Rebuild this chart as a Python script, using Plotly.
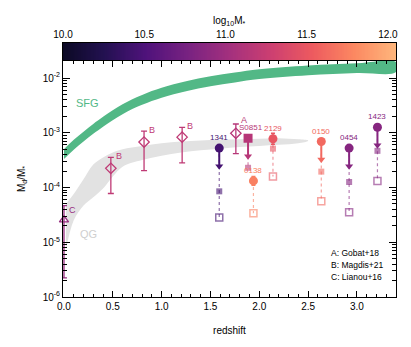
import numpy as np
import plotly.graph_objects as go
from plotly.colors import sample_colorscale

# ---------------- data (log10 of Md/M*) ----------------
sfg_z = [0.0, 0.1, 0.2, 0.3, 0.4, 0.6, 0.8, 1.0, 1.25, 1.5, 1.75, 2.0, 2.5, 3.0, 3.4]
sfg_hi = [-3.30, -3.13, -2.98, -2.84, -2.71, -2.48, -2.31, -2.18, -2.06, -1.97, -1.90, -1.84, -1.77, -1.73, -1.71]
sfg_lo = [-3.48, -3.31, -3.16, -3.02, -2.89, -2.66, -2.49, -2.36, -2.24, -2.15, -2.08, -2.02, -1.95, -1.91, -1.89]

qg_z = [0.02, 0.1, 0.2, 0.3, 0.4, 0.5, 0.6, 0.8, 1.0, 1.2, 1.4, 1.6, 1.8, 2.0, 2.2, 2.4, 2.5]
qg_hi = [-4.30, -4.12, -3.85, -3.58, -3.45, -3.36, -3.30, -3.24, -3.19, -3.16, -3.14, -3.13, -3.12, -3.11, -3.10, -3.12, -3.14]
qg_lo = [-5.14, -4.60, -4.33, -4.18, -4.02, -3.80, -3.62, -3.50, -3.42, -3.36, -3.32, -3.29, -3.26, -3.24, -3.22, -3.19, -3.15]

# our sample
gal_id = ["1341", "S0851", "0138", "2129", "0150", "0454", "1423"]
gal_z = [1.59, 1.885, 1.94, 2.14, 2.635, 2.92, 3.21]
gal_logm = [10.45, 11.15, 11.75, 11.5, 11.62, 10.85, 10.85]
gal_md = [-3.28, -3.10, -3.88, -3.11, -3.16, -3.28, -2.90]
gal_limit = [True, True, False, False, True, True, True]
gal_err = [0.0, 0.0, 0.08, 0.10, 0.0, 0.0, 0.0]
gal_fsq = [-4.07, -3.64, None, -3.29, -3.71, -3.90, -3.33]
gal_osq = [-4.55, None, -4.47, -3.80, -4.25, -4.45, -3.88]

# literature
lit_ref = ["C", "B", "B", "B", "A"]
lit_z = [0.0, 0.48, 0.82, 1.21, 1.76]
lit_md = [-4.59, -3.65, -3.17, -3.08, -3.01]
lit_hi = [-4.33, -3.45, -2.97, -2.90, -2.84]
lit_lo = [-5.65, -4.11, -3.69, -3.55, -3.38]
lit_logm = [10.95, 11.2, 11.2, 11.2, 11.15]
ref_names = ["A: Gobat+18", "B: Magdis+21", "C: Lianou+16"]

cb_ticks = [10.0, 10.5, 11.0, 11.5, 12.0]
cb_min, cb_max = 10.0, 12.05

magma_cs = [[0.0, "#0b0924"], [0.125, "#231151"], [0.25, "#4f127b"], [0.375, "#782281"],
            [0.5, "#a3307e"], [0.625, "#cc3f71"], [0.75, "#ed5a5f"], [0.875, "#fc8861"],
            [1.0, "#feb67c"]]

FONT = "Liberation Sans, Arial, sans-serif"
ARROW = 0.33  # arrow length in dex


def mass_color(m, alpha=1.0):
    c = sample_colorscale(magma_cs, [(m - cb_min) / (cb_max - cb_min)])[0]
    r, g, b = [float(v) for v in c[c.index("(") + 1:-1].split(",")]
    return f"rgba({r:.0f},{g:.0f},{b:.0f},{alpha})"


def lin(v):
    return 10 ** np.array(v, dtype=float)


fig = go.Figure()

# bands
fig.add_trace(go.Scatter(x=sfg_z + sfg_z[::-1], y=np.concatenate([lin(sfg_hi), lin(sfg_lo)[::-1]]),
                         fill="toself", fillcolor="#52b886", line=dict(width=0, shape="spline"),
                         mode="lines", hoverinfo="skip", showlegend=False))
fig.add_trace(go.Scatter(x=qg_z + qg_z[::-1], y=np.concatenate([lin(qg_hi), lin(qg_lo)[::-1]]),
                         fill="toself", fillcolor="#e2e2e2", line=dict(width=0, shape="spline"),
                         mode="lines", hoverinfo="skip", showlegend=False))

# literature points
for ref, z, y, hi, lo, m in zip(lit_ref, lit_z, lit_md, lit_hi, lit_lo, lit_logm):
    col = mass_color(m)
    sym = "triangle-up-open" if ref == "C" else "diamond-open"
    fig.add_trace(go.Scatter(
        x=[z], y=[10 ** y], mode="markers",
        marker=dict(symbol=sym, size=8, color=col, line=dict(width=1.3, color=col)),
        error_y=dict(type="data", symmetric=False, array=[10 ** hi - 10 ** y],
                     arrayminus=[10 ** y - 10 ** lo], color=col, thickness=1.3, width=3),
        showlegend=False, cliponaxis=False))
    fig.add_annotation(x=z, y=hi, text=ref, showarrow=False, xanchor="left", xshift=3,
                       yshift={"C": -4, "A": 4}.get(ref, 1),
                       font=dict(family=FONT, size=9, color=col))

# our sample
for gid, z, m, y, lim, err, fsq, osq in zip(gal_id, gal_z, gal_logm, gal_md, gal_limit,
                                            gal_err, gal_fsq, gal_osq):
    col = mass_color(m)
    light = mass_color(m, 0.6)
    bottom = min(v for v in [fsq, osq, y] if v is not None)
    fig.add_trace(go.Scatter(x=[z, z], y=[10 ** y, 10 ** bottom], mode="lines",
                             line=dict(color=light, width=1.2, dash="dot"), showlegend=False))
    if fsq is not None:
        fig.add_trace(go.Scatter(x=[z], y=[10 ** fsq], mode="markers",
                                 marker=dict(symbol="square", size=6, color=light), showlegend=False))
    if osq is not None:
        fig.add_trace(go.Scatter(x=[z], y=[10 ** osq], mode="markers",
                                 marker=dict(symbol="square-open", size=7, color=light,
                                             line=dict(width=1.5, color=light)), showlegend=False))
    if lim:
        fig.add_trace(go.Scatter(x=[z, z], y=[10 ** y, 10 ** (y - ARROW)], mode="lines",
                                 line=dict(color=col, width=2), showlegend=False))
        fig.add_trace(go.Scatter(x=[z], y=[10 ** (y - ARROW)], mode="markers",
                                 marker=dict(symbol="triangle-down", size=7, color=col),
                                 showlegend=False))
    ekw = {}
    if err > 0:
        ekw = dict(error_y=dict(type="data", symmetric=False, array=[10 ** (y + err) - 10 ** y],
                                arrayminus=[10 ** y - 10 ** (y - err)], color=col,
                                thickness=1.4, width=2))
    fig.add_trace(go.Scatter(
        x=[z], y=[10 ** y], mode="markers",
        marker=dict(symbol="square" if gid == "S0851" else "circle", size=9, color=col),
        showlegend=False, **ekw))
    fig.add_annotation(x=z, y=y, text=gid, showarrow=False, yanchor="bottom", yshift=4,
                       xshift=3 if gid == "S0851" else 0,
                       font=dict(family=FONT, size=8, color=col))

# colour bar drawn as a heatmap strip
cb_x = np.linspace(cb_min, cb_max, 256)
fig.add_trace(go.Heatmap(x=cb_x, y=[0], z=[cb_x], colorscale=magma_cs, zmin=cb_min, zmax=cb_max,
                         showscale=False, xaxis="x2", yaxis="y2", hoverinfo="skip"))

# texts
fig.add_annotation(x=0.24, y=-2.46, text="SFG", showarrow=False,
                   font=dict(family=FONT, size=11, color="#52b886"))
fig.add_annotation(x=0.25, y=-4.85, text="QG", showarrow=False,
                   font=dict(family=FONT, size=11, color="#cfcfcf"))
for i, name in enumerate(ref_names):
    fig.add_annotation(xref="paper", yref="paper", x=0.80, y=0.173 - i * 0.048, text=name,
                       showarrow=False, xanchor="left", yanchor="middle",
                       font=dict(family=FONT, size=8.5, color="black"))
fig.add_annotation(xref="paper", yref="paper", x=0.5, y=1.085, text="log<sub>10</sub>M<sub>*</sub>",
                   showarrow=False, xanchor="center", yanchor="middle",
                   font=dict(family=FONT, size=10, color="black"))

minor_y = [k * 10.0 ** e for e in range(-6, -1) for k in range(2, 10)]

axis_common = dict(showline=True, linecolor="black", linewidth=1, mirror="ticks",
                   ticks="inside", tickcolor="black", showgrid=False, zeroline=False,
                   automargin=False,
                   tickfont=dict(family=FONT, size=10, color="black"))

fig.update_layout(
    width=411, height=347,
    margin=dict(l=63, r=15, t=43, b=50, autoexpand=False),
    plot_bgcolor="white", paper_bgcolor="white",
    font=dict(family=FONT, size=10, color="black"),
    xaxis=dict(range=[-0.01, 3.4], domain=[0, 1],
               tickvals=[0, 0.5, 1.0, 1.5, 2.0, 2.5, 3.0],
               ticktext=["0.0", "0.5", "1.0", "1.5", "2.0", "2.5", "3.0"],
               ticklen=6,
               minor=dict(dtick=0.1, tick0=0, ticks="inside", ticklen=3, tickcolor="black"),
               title=dict(text="redshift", font=dict(family=FONT, size=10)),
               **axis_common),
    yaxis=dict(type="log", range=[-6, -1.69], domain=[0, 0.929],
               tickvals=[1e-6, 1e-5, 1e-4, 1e-3, 1e-2],
               ticktext=[f"10<sup>-{e}</sup>" for e in [6, 5, 4, 3, 2]],
               ticklen=7,
               minor=dict(tickvals=minor_y, ticks="inside", ticklen=4, tickcolor="black"),
               title=dict(text="M<sub>d</sub>/M<sub>*</sub>", font=dict(family=FONT, size=10)),
               **axis_common),
    xaxis2=dict(anchor="y2", range=[cb_min, cb_max], side="top", domain=[0, 1],
                tickvals=cb_ticks, ticktext=[f"{v:.1f}" for v in cb_ticks], ticks="",
                showline=True, linecolor="black", mirror=True, showgrid=False, zeroline=False,
                automargin=False,
                tickfont=dict(family=FONT, size=10, color="black")),
    yaxis2=dict(anchor="x2", domain=[0.933, 1.0], range=[-0.5, 0.5], showticklabels=False,
                ticks="", showline=True, linecolor="black", mirror=True, showgrid=False,
                zeroline=False, automargin=False),
)

# drop the browser's default 8 px body margin so the figure sits at the page corner
fig.write_html("out.html", config={"displayModeBar": False},
               post_script="document.body.style.margin='0px';")
